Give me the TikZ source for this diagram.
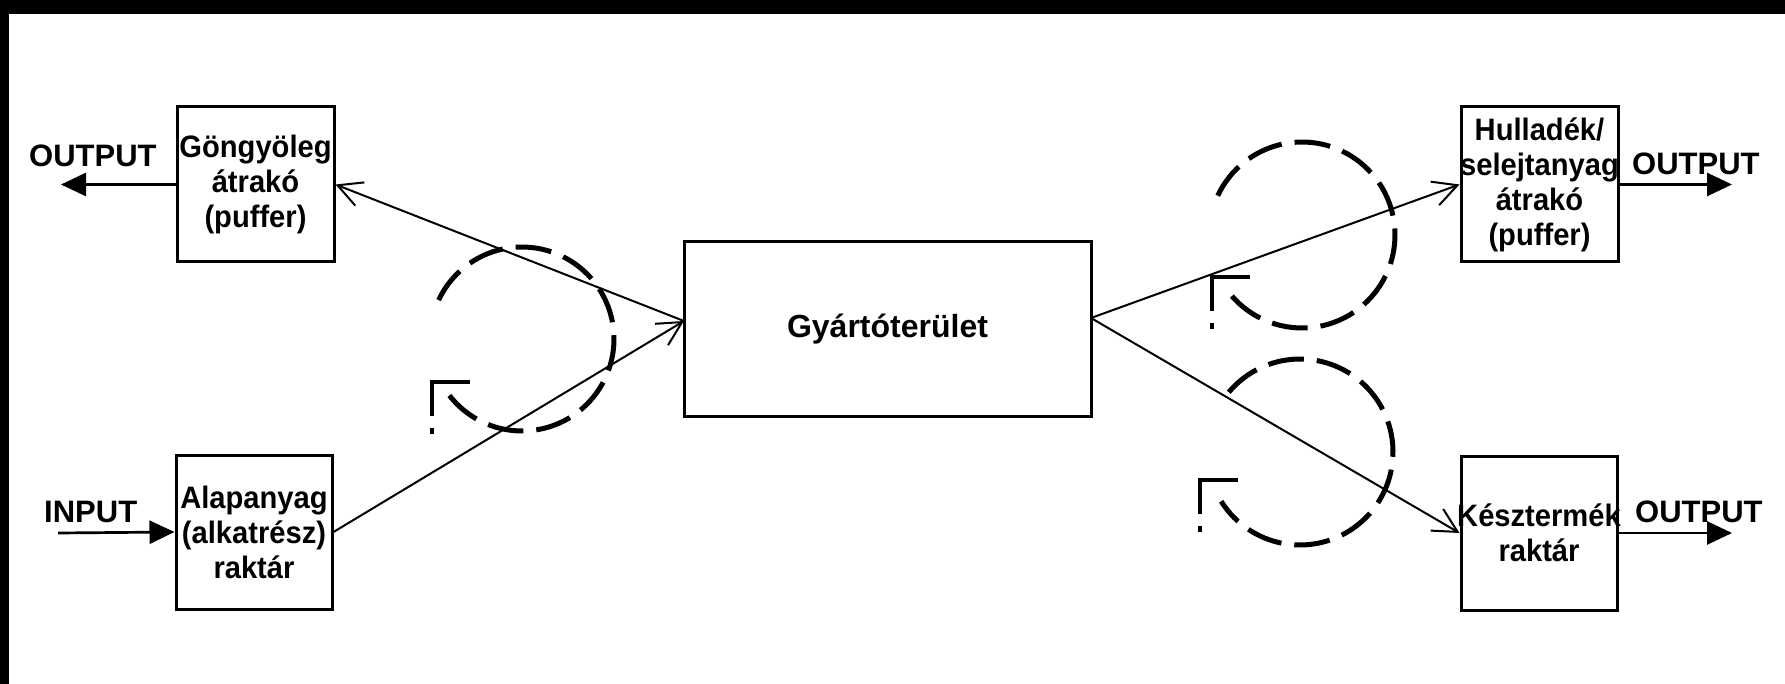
\documentclass[tikz,border=0pt]{standalone}
\usepackage{fontspec}
\setmainfont{Liberation Sans}
\newfontfamily\boxfont{Liberation Sans}[FakeStretch=0.94]
\usetikzlibrary{arrows.meta,calc}
\begin{document}
\begin{tikzpicture}[x=1pt,y=-1pt,
  box/.style={draw, line width=3pt, inner sep=0pt},
  boxtext/.style={inner sep=0pt, align=center, font=\boxfont\bfseries\fontsize{31}{35}\selectfont},
  lbl/.style={font=\bfseries\fontsize{31}{35}\selectfont, inner sep=0pt, anchor=base west},
  conn/.style={line width=2pt, -{Straight Barb[length=24pt,width=25pt,line width=2pt]}},
  io/.style={line width=2.7pt, -{Triangle[length=25pt,width=23pt]}},
  cyc/.style={line width=5pt, dash pattern=on 36pt off 13pt},
  cyctip/.style={line width=4.5pt},
]
\fill[white] (0,0) rectangle (1785,684);
\useasboundingbox (0,0) rectangle (1785,684);
\fill[black] (0,0) rectangle (1785,14);
\fill[black] (0,0) rectangle (8.5,684);

% boxes
\node[box, minimum width=157pt, minimum height=155pt] (gong) at (255.5,184.5) {};
\node[boxtext] (gongT) at (gong.center) {Göngyöleg\\átrakó\\(puffer)};
\node[box, minimum width=156pt, minimum height=154pt] (alap) at (254,532) {};
\node[boxtext] (alapT) at (alap.center) {Alapanyag\\(alkatrész)\\raktár};
\node[box, minimum width=407pt, minimum height=174pt] (gyarto) at (887.5,329) {};
\node[boxtext, font=\bfseries\fontsize{32}{36}\selectfont] (gyartoT) at (gyarto.center) {Gyártóterület};
\node[box, minimum width=157pt, minimum height=155pt] (hull) at (1539.5,184.5) {};
\node[boxtext] (hullT) at (hull.center) {Hulladék/\\selejtanyag\\átrakó\\(puffer)};
\node[box, minimum width=156pt, minimum height=154pt] (kesz) at (1539,533) {};
\node[boxtext] (keszT) at (kesz.center) {Késztermék\\raktár};

% connectors
\coordinate (gin) at (684,321);
\coordinate (gout) at (1091,318);
\draw[conn] (alap.east) -- (gin);
\draw[conn] (gin) -- (gong.east);
\draw[conn] (gout) -- (hull.west);
\draw[conn] (gout) -- (kesz.west);

% input / output
\coordinate (outL) at (61,184.5);
\coordinate (inL) at (58,533);
\coordinate (outR1) at (1732,184.5);
\coordinate (outR2) at (1732,533);
\draw[io] (gong.west) -- (outL);
\draw[io] (inL) -- (alap.west);
\draw[io] (hull.east) -- (outR1);
\draw[io] (kesz.east) -- (outR2);
\node[lbl] (tOutL) at (29,167) {OUTPUT};
\node[lbl] (tIn) at (44,522) {INPUT};
\node[lbl] (tOutR1) at (1632,175) {OUTPUT};
\node[lbl] (tOutR2) at (1635,522) {OUTPUT};

% cyclic dashed arrows
\coordinate (c1) at (522,339);
\coordinate (c2) at (1302,235);
\coordinate (c3) at (1300,452);
\draw[cyc, shift={(c1)}] plot[domain=205:503, samples=90, variable=\t] (\t:92);
\draw[cyc, shift={(c2)}] plot[domain=205:503, samples=90, variable=\t] (\t:93);
\draw[cyc, shift={(c3)}] plot[domain=220:508, samples=90, variable=\t] (\t:93);
\coordinate (a1) at (432,382);
\coordinate (a2) at (1212,277);
\coordinate (a3) at (1200,480);
\foreach \a in {a1,a2,a3}{
  \draw[cyctip] ($(\a)+(-2,0)$) -- ++(40,0);
  \draw[cyctip, dash pattern=on 36pt off 12pt on 6pt off 80pt] ($(\a)+(0,-2)$) -- ++(0,58);
}
\end{tikzpicture}
\end{document}
